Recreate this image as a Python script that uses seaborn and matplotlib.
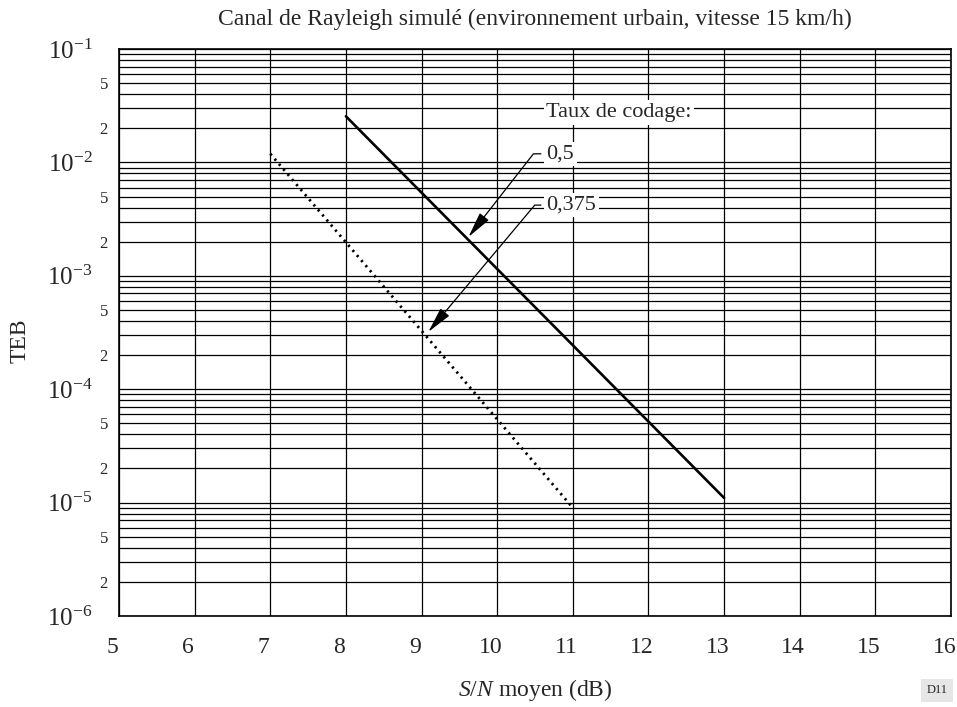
import numpy as np
import pandas as pd
import seaborn as sns
import matplotlib.pyplot as plt
import matplotlib.transforms as mtransforms
from matplotlib.ticker import LogLocator, FixedLocator, FuncFormatter

# data
snr_05 = [8, 13]
teb_05 = [2.55e-2, 1.1e-5]
snr_0375 = [7, 11]
teb_0375 = [1.19e-2, 9.0e-6]

x_ticks = list(range(5, 17))
title = "Canal de Rayleigh simulé (environnement urbain, vitesse 15 km/h)"

df = pd.concat([
    pd.DataFrame({"snr": snr_05, "teb": teb_05, "taux": "0,5"}),
    pd.DataFrame({"snr": snr_0375, "teb": teb_0375, "taux": "0,375"}),
])

sns.set_style("white")
plt.rcParams["font.family"] = ["Liberation Serif", "DejaVu Serif"]
plt.rcParams["mathtext.fontset"] = "custom"
plt.rcParams["mathtext.rm"] = "Liberation Serif"
plt.rcParams["mathtext.it"] = "Liberation Serif:italic"

fig = plt.figure(figsize=(9.57, 7.07), dpi=100)
ax = fig.add_axes([119 / 957, 1 - 616 / 707, 832 / 957, 567 / 707])

sns.lineplot(data=df[df.taux == "0,5"], x="snr", y="teb", ax=ax,
             color="black", linewidth=1.9, legend=False)
sns.lineplot(data=df[df.taux == "0,375"], x="snr", y="teb", ax=ax,
             color="black", linewidth=2.0, linestyle=(0, (0.8, 1.6)),
             legend=False)

ax.set_yscale("log")
ax.set_xlim(5, 16)
ax.set_ylim(1e-6, 1e-1)
ax.xaxis.set_major_locator(FixedLocator(x_ticks))
ax.yaxis.set_major_locator(LogLocator(base=10, numticks=10))
ax.yaxis.set_minor_locator(LogLocator(base=10, subs=np.arange(2, 10), numticks=20))


def major_fmt(v, pos):
    return r"$10^{-%d}$" % int(round(-np.log10(v)))


def minor_fmt(v, pos):
    m = int(round(v / 10 ** np.floor(np.log10(v) + 1e-9)))
    return str(m) if m in (2, 5) else ""


ax.yaxis.set_major_formatter(FuncFormatter(major_fmt))
ax.yaxis.set_minor_formatter(FuncFormatter(minor_fmt))

ax.grid(which="both", axis="y", color="black", linewidth=0.9)
ax.grid(which="major", axis="x", color="black", linewidth=0.9)
ax.tick_params(axis="x", length=0, pad=15, labelsize=17)
ax.tick_params(axis="y", which="major", length=0, pad=19, labelsize=18)
ax.tick_params(axis="y", which="minor", length=0, pad=8, labelsize=12)
for s in ax.spines.values():
    s.set_color("black")
    s.set_linewidth(1.2)

# x tick labels sit a little left of their grid line in the reference
shift = mtransforms.ScaledTranslation(-6.5 / 100, 0, fig.dpi_scale_trans)
for lab in ax.get_xticklabels():
    lab.set_transform(lab.get_transform() + shift)

ax.set_xlabel(r"$\mathit{S/N}$ moyen (dB)", fontsize=17, va="center")
ax.xaxis.set_label_coords(0.5, (616 - 690) / 567)
ax.set_ylabel("TEB", fontsize=17, va="center")
ax.yaxis.set_label_coords((20 - 119) / 832, (616 - 341) / 567)
ax.set_title(title, fontsize=17, pad=17)

box = dict(facecolor="white", edgecolor="none", pad=2)
ax.text(10.65, 2.75e-2, "Taux de codage:", fontsize=16, va="center", ha="left", bbox=box)
ax.annotate("0,5", xy=(9.62, 2.2e-3), xytext=(10.65, 1.19e-2), fontsize=16,
            va="center", ha="left", bbox=box,
            arrowprops=dict(arrowstyle="-|>,head_length=1.0,head_width=0.22",
                            color="black", lw=0.9, shrinkA=2, shrinkB=0,
                            relpos=(0, 0.5),
                            connectionstyle="angle,angleA=0,angleB=52,rad=0"))
ax.annotate("0,375", xy=(9.09, 3.2e-4), xytext=(10.65, 4.2e-3), fontsize=16,
            va="center", ha="left", bbox=box,
            arrowprops=dict(arrowstyle="-|>,head_length=1.0,head_width=0.22",
                            color="black", lw=0.9, shrinkA=2, shrinkB=0,
                            relpos=(0, 0.5),
                            connectionstyle="angle,angleA=0,angleB=50,rad=0"))

fig.text(937 / 957, 1 - 690 / 707, "D11", fontsize=9, ha="center", va="center",
         bbox=dict(facecolor="#e6e6e6", edgecolor="none", pad=4))

fig.savefig("out.png", dpi=100)
